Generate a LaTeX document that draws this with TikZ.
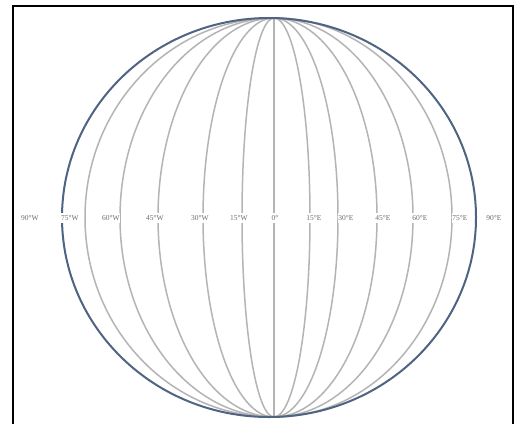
\documentclass[tikz,border=0pt]{standalone}
\usepackage{fontspec}
\setmainfont{Liberation Serif}
\definecolor{rimblue}{HTML}{4F6482}
\definecolor{merigray}{HTML}{B4B4B4}
\definecolor{labgray}{HTML}{6E6E6E}
\begin{document}
\begin{tikzpicture}[x=1bp,y=1bp,
  meridian/.style={draw=merigray,line width=1.5bp},
  rim/.style={draw=rimblue,line width=2bp},
  lbl/.style={font=\fontsize{7.5}{8}\selectfont,text=labgray,fill=white,inner xsep=0.5bp,inner ysep=2bp}]
\useasboundingbox (0,0) rectangle (520,423);
\fill[white] (0,0) rectangle (520,423);
\begin{scope}
\clip (0,0) rectangle (520,423);
\draw[line width=1.6bp] (13,-20) -- (13,417) -- (513,417) -- (513,-20);
\end{scope}
% meridians
\coordinate (np) at (274,405);
\foreach \r in {189,154,116,71,32}{
  \draw[meridian] (np) arc[start angle=90,end angle=270,x radius=\r bp,y radius=199.5bp];
}
\draw[meridian] (np) -- (274,6);
\foreach \r in {36,64,103,139,178}{
  \draw[meridian] (np) arc[start angle=90,end angle=-90,x radius=\r bp,y radius=199.5bp];
}
% rim
\draw[rim] (269,205.5) ellipse[x radius=207bp,y radius=199.5bp];
% labels
\node[lbl] (w90) at (30,205) {90°W};
\node[lbl] (w75) at (70,205) {75°W};
\node[lbl] (w60) at (111,205) {60°W};
\node[lbl] (w45) at (155,205) {45°W};
\node[lbl] (w30) at (200,205) {30°W};
\node[lbl] (w15) at (239,205) {15°W};
\node[lbl] (z0) at (275,205) {0°};
\node[lbl] (e15) at (314,205) {15°E};
\node[lbl] (e30) at (346,205) {30°E};
\node[lbl] (e45) at (383,205) {45°E};
\node[lbl] (e60) at (420,205) {60°E};
\node[lbl] (e75) at (460,205) {75°E};
\node[lbl] (e90) at (494,205) {90°E};
\end{tikzpicture}
\end{document}
